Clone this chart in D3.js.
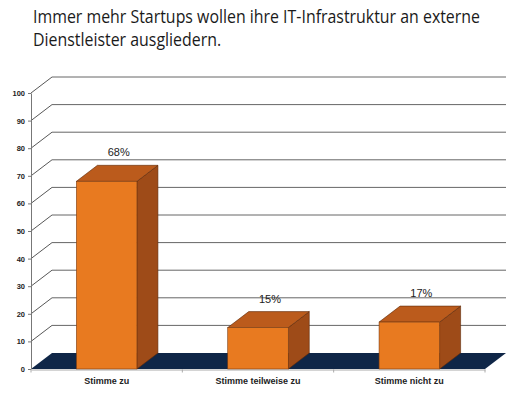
<!DOCTYPE html>
<html>
<head>
<meta charset="utf-8">
<script src="https://cdn.jsdelivr.net/npm/d3@7"></script>
<style>
  body { margin: 0; background: #fff; }
  svg { display: block; }
  .title { font-family: "Open Sans", sans-serif; font-size: 18.5px; fill: #1a1a1a; }
  .y.axis text { font-family: "Liberation Sans", Arial, sans-serif; font-size: 7.5px; font-weight: bold; fill: #222; }
  .y.axis path, .y.axis line { stroke: #777; }
  .cat-label { font-family: "Liberation Sans", Arial, sans-serif; font-size: 9px; font-weight: bold; fill: #222; }
  .value-label { font-family: "Liberation Sans", Arial, sans-serif; font-size: 11px; fill: #222; }
</style>
</head>
<body>
<div id="chart"></div>
<script>
// Data
var titleLines = [
  "Immer mehr Startups wollen ihre IT-Infrastruktur an externe",
  "Dienstleister ausgliedern."
];
var categories = ["Stimme zu", "Stimme teilweise zu", "Stimme nicht zu"];
var values = [68, 15, 17];
var yTicks = [0, 10, 20, 30, 40, 50, 60, 70, 80, 90, 100];

var width = 524;
var height = 397;

// 3D depth offset
var DX = 21;
var DY = -16;

var svg = d3.select("#chart")
  .append("svg")
  .attr("width", width)
  .attr("height", height);

// Title (squeezed horizontally to mimic the narrow original font)
var titleG = svg.append("g").attr("class", "title-group");
var titleTexts = titleG.selectAll("text")
  .data(titleLines)
  .enter()
  .append("text")
  .attr("class", "title")
  .attr("x", 0)
  .attr("y", (d, i) => 23.5 + i * 22.5)
  .text(d => d);
var firstLen = titleTexts.node().getComputedTextLength();
var sx = 447 / firstLen;
titleG.attr("transform", "translate(33,0) scale(" + sx + ",1)");

// Scales
var xScale = d3.scaleBand()
  .domain(categories)
  .range([31, 485])
  .padding(0);

var yScale = d3.scaleLinear()
  .domain([0, 100])
  .range([369, 93]);

var x0 = xScale.range()[0];
var x1 = xScale.range()[1];
var yBase = yScale(0);

// Floor
svg.append("polygon")
  .attr("class", "floor")
  .attr("points", [
    [x0, yBase], [x0 + DX, yBase + DY], [x1 + DX, yBase + DY], [x1, yBase]
  ].map(p => p.join(",")).join(" "))
  .attr("fill", "#0f2647");

// Gridlines: side wall diagonal + back wall horizontal
var grid = svg.append("g").attr("class", "grid");
yTicks.filter(d => d > 0).forEach(function(t) {
  var y = yScale(t);
  grid.append("line")
    .attr("x1", x0).attr("y1", y)
    .attr("x2", x0 + DX).attr("y2", y + DY)
    .attr("stroke", "#444").attr("stroke-width", 0.9);
  grid.append("line")
    .attr("x1", x0 + DX).attr("y1", y + DY)
    .attr("x2", x1 + DX).attr("y2", y + DY)
    .attr("stroke", "#666").attr("stroke-width", 1);
});

// Y axis
var yAxis = d3.axisLeft(yScale)
  .tickValues(yTicks)
  .tickSize(3)
  .tickPadding(3)
  .tickSizeOuter(0);

svg.append("g")
  .attr("class", "y axis")
  .attr("transform", "translate(" + x0 + ",0)")
  .call(yAxis);

// Bottom axis line with category separators
var xAxis = d3.axisBottom(xScale)
  .tickSize(0)
  .tickFormat("");
var xAxisG = svg.append("g")
  .attr("class", "x axis")
  .attr("transform", "translate(0," + (yBase + 0.5) + ")")
  .call(xAxis);
xAxisG.select(".domain").attr("stroke", "#aaa");
var separators = categories.map(c => xScale(c)).concat([x1]);
xAxisG.selectAll(".sep")
  .data(separators)
  .enter()
  .append("line")
  .attr("class", "sep")
  .attr("x1", d => d).attr("x2", d => d)
  .attr("y1", 0).attr("y2", 3)
  .attr("stroke", "#aaa");

// Bars
var barW = xScale.bandwidth() * 0.4;
var barOff = xScale.bandwidth() * 0.3;
var bars = svg.append("g").attr("class", "bars")
  .selectAll("g")
  .data(values)
  .enter()
  .append("g");

bars.each(function(v, i) {
  var g = d3.select(this);
  var bx0 = xScale(categories[i]) + barOff;
  var bx1 = bx0 + barW;
  var yt = yScale(v);
  var pts = a => a.map(p => p.join(",")).join(" ");

  // side face
  g.append("polygon")
    .attr("points", pts([[bx1, yt], [bx1 + DX, yt + DY], [bx1 + DX, yBase + DY], [bx1, yBase]]))
    .attr("fill", "#9e4b18")
    .attr("stroke", "#5e2a0a").attr("stroke-width", 0.6);
  // top face
  g.append("polygon")
    .attr("points", pts([[bx0, yt], [bx0 + DX, yt + DY], [bx1 + DX, yt + DY], [bx1, yt]]))
    .attr("fill", "#bb5b1c")
    .attr("stroke", "#5e2a0a").attr("stroke-width", 0.6);
  // front face
  g.append("rect")
    .attr("x", bx0)
    .attr("y", yt)
    .attr("width", barW)
    .attr("height", yBase - yt)
    .attr("fill", "#e87a20")
    .attr("stroke", "#7a3a10").attr("stroke-width", 0.6);
});

// Value labels
svg.append("g").attr("class", "values")
  .selectAll("text")
  .data(values)
  .enter()
  .append("text")
  .attr("class", "value-label")
  .attr("text-anchor", "middle")
  .attr("x", (d, i) => xScale(categories[i]) + xScale.bandwidth() / 2 + 12)
  .attr("y", d => yScale(d) - 25)
  .text(d => d + "%");

// Category labels
svg.append("g").attr("class", "categories")
  .selectAll("text")
  .data(categories)
  .enter()
  .append("text")
  .attr("class", "cat-label")
  .attr("text-anchor", "middle")
  .attr("x", d => xScale(d) + xScale.bandwidth() / 2)
  .attr("y", yBase + 15)
  .text(d => d);
</script>
</body>
</html>
